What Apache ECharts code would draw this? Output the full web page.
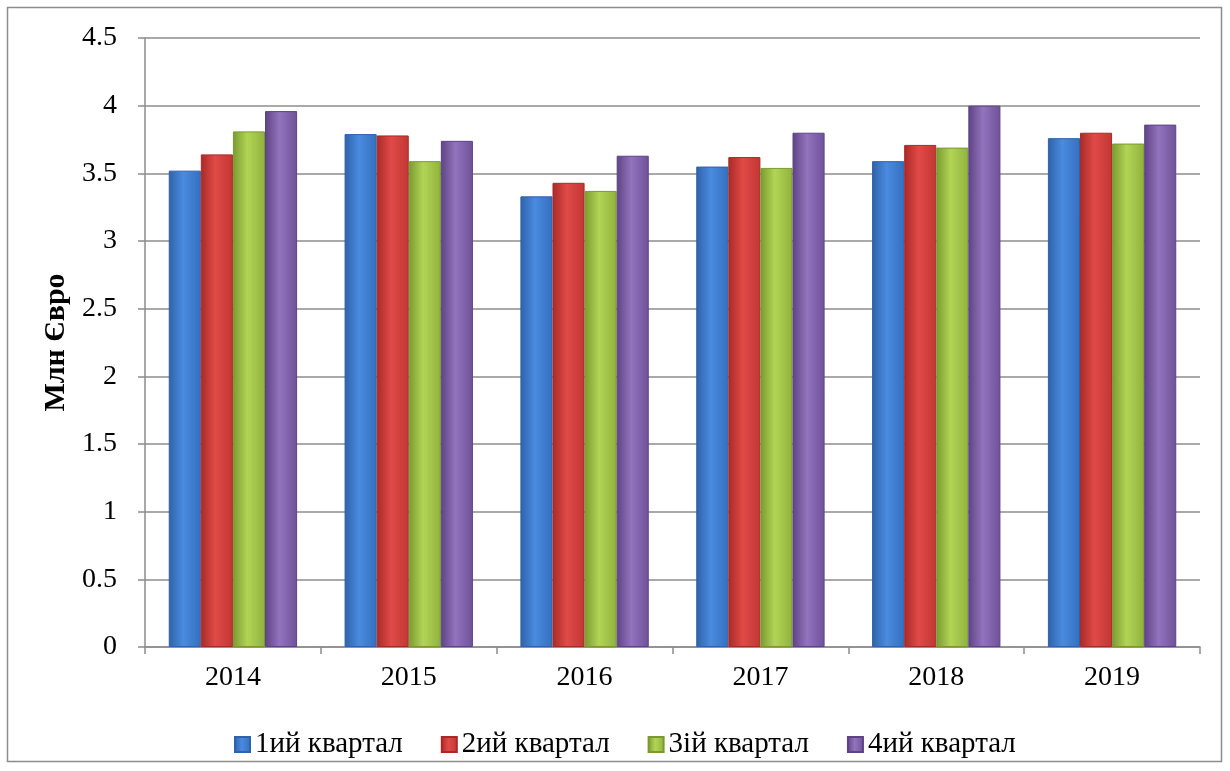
<!DOCTYPE html>
<html><head><meta charset="utf-8">
<script src="https://cdn.jsdelivr.net/npm/echarts@6/dist/echarts.min.js"></script>
<style>html,body{margin:0;padding:0;background:#fff}#c{width:1230px;height:771px}</style>
</head><body><div id="c"></div>
<script>
const categories = ['2014','2015','2016','2017','2018','2019'];
const seriesNames = ['1ий квартал','2ий квартал','3ій квартал','4ий квартал'];
const q1 = [3.52, 3.79, 3.33, 3.55, 3.59, 3.76];
const q2 = [3.64, 3.78, 3.43, 3.62, 3.71, 3.80];
const q3 = [3.81, 3.59, 3.37, 3.54, 3.69, 3.72];
const q4 = [3.96, 3.74, 3.63, 3.80, 4.00, 3.86];
const yTicks = [0, 0.5, 1, 1.5, 2, 2.5, 3, 3.5, 4, 4.5];

const colors = [
  ['#2f62a8','#4a8ae0','#3470c0'],
  ['#a82a28','#e04a47','#c23634'],
  ['#7a9a30','#b2d455','#8fb23d'],
  ['#5e4384','#9273bd','#6f519a']
];
const font = "'Liberation Serif','Times New Roman',serif";
function grad(c){
  return new echarts.graphic.LinearGradient(0,0,1,0,[
    {offset:0,color:c[0]},{offset:0.45,color:c[1]},{offset:1,color:c[2]}
  ]);
}
const data = [q1,q2,q3,q4];
const chart = echarts.init(document.getElementById('c'));
chart.setOption({
  animation:false,
  backgroundColor:'#fff',
  graphic:[{type:'rect',shape:{x:7.5,y:7.5,width:1214,height:754},style:{fill:'none',stroke:'#8c8c8c',lineWidth:1.5}}],
  grid:{left:145,right:30,top:38,bottom:124,containLabel:false},
  legend:{
    top:725,left:229,itemWidth:15,itemHeight:15,itemGap:38,
    textStyle:{fontFamily:font,fontSize:29,color:'#000'},
    icon:'rect',
    data:seriesNames
  },
  xAxis:{
    type:'category',data:categories,
    axisLine:{lineStyle:{color:'#8c8c8c',width:1.5}},
    axisTick:{show:true,alignWithLabel:false,length:7,lineStyle:{color:'#8c8c8c',width:1.5}},
    axisLabel:{fontFamily:font,fontSize:28,color:'#000',margin:17}
  },
  yAxis:{
    type:'value',min:0,max:4.5,interval:0.5,
    name:'Млн Євро',nameLocation:'middle',nameGap:72,nameRotate:90,
    nameTextStyle:{fontFamily:font,fontSize:30,fontWeight:'bold',color:'#000'},
    axisLine:{show:true,lineStyle:{color:'#8c8c8c',width:1.5}},
    axisTick:{show:true,inside:false,length:7,lineStyle:{color:'#8c8c8c',width:1.5}},
    splitLine:{lineStyle:{color:'#8c8c8c',width:1.5}},
    axisLabel:{fontFamily:font,fontSize:28,color:'#000',margin:28,
      formatter:v=>yTicks.includes(v)?String(v):''}
  },
  series: seriesNames.map((n,i)=>({
    name:n,type:'bar',data:data[i],
    barGap:'0%',barCategoryGap:'27%',
    itemStyle:{color:grad(colors[i]),borderColor:colors[i][0],borderWidth:1}
  }))
});
</script></body></html>
